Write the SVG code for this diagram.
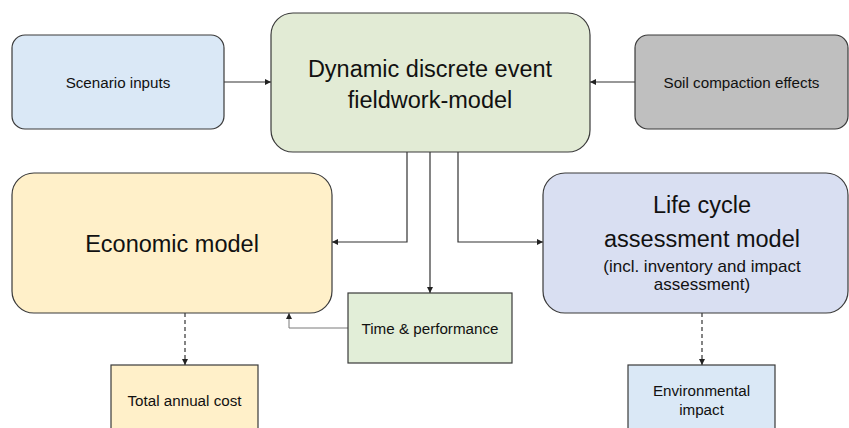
<svg xmlns="http://www.w3.org/2000/svg" width="849" height="428" viewBox="0 0 849 428">
<style>
.box{stroke:#3a3a3a;stroke-width:1.2}
.t{font-family:"Liberation Sans",Arial,sans-serif;fill:#111;text-anchor:middle}
.s{font-size:15.2px}
.b{font-size:23.5px}
.m{font-size:17px}
.ln{fill:none;stroke:#333;stroke-width:1.2}
.gl{fill:none;stroke:#7a7a7a;stroke-width:1}
.ds{fill:none;stroke:#333;stroke-width:1.2;stroke-dasharray:4 3}
</style>
<defs>
<marker id="ah" viewBox="0 0 10 10" refX="10" refY="5" markerWidth="6" markerHeight="6" markerUnits="userSpaceOnUse" orient="auto">
<path d="M0,0 L10,5 L0,10 z" fill="#222"/>
</marker>
</defs>
<rect width="849" height="428" fill="#fff"/>
<g id="connectors">
<path class="ln" d="M224,82 H271" marker-end="url(#ah)"/>
<path class="ln" d="M635,82 H590" marker-end="url(#ah)"/>
<path class="ln" d="M407,152 V242 H332" marker-end="url(#ah)"/>
<path class="ln" d="M430,152 V293" marker-end="url(#ah)"/>
<path class="ln" d="M458,152 V242 H543" marker-end="url(#ah)"/>
<path class="gl" d="M348,328 H289 V313" marker-end="url(#ah)"/>
<path class="ds" d="M185,313 V365" marker-end="url(#ah)"/>
<path class="ds" d="M702,313 V365" marker-end="url(#ah)"/>
</g>
<g id="scenario">
<rect class="box" x="12" y="35" width="212" height="94" rx="13" fill="#dae8f6"/>
<text class="t s" x="118" y="88">Scenario inputs</text>
</g>
<g id="fieldwork">
<rect class="box" x="271" y="13" width="319" height="139" rx="22" fill="#e2ebd5"/>
<text class="t b" x="430" y="77">Dynamic discrete event</text>
<text class="t b" x="430" y="108">fieldwork-model</text>
</g>
<g id="soil">
<rect class="box" x="635" y="35" width="213" height="94" rx="13" fill="#bfbfbf"/>
<text class="t s" x="741.5" y="88">Soil compaction effects</text>
</g>
<g id="economic">
<rect class="box" x="12" y="173" width="320" height="140" rx="22" fill="#fff0c9"/>
<text class="t b" x="172" y="252">Economic model</text>
</g>
<g id="lca">
<rect class="box" x="543" y="173" width="305" height="140" rx="22" fill="#d9dff2"/>
<text class="t b" x="702" y="213">Life cycle</text>
<text class="t b" x="702" y="247">assessment model</text>
<text class="t m" x="702" y="272">(incl. inventory and impact</text>
<text class="t m" x="702" y="290">assessment)</text>
</g>
<g id="time">
<rect class="box" x="348" y="293" width="164" height="70" fill="#e2eed8"/>
<text class="t s" x="430" y="334">Time &amp; performance</text>
</g>
<g id="cost">
<rect class="box" x="111" y="365" width="147" height="70" fill="#fff0c9"/>
<text class="t s" x="184.5" y="406">Total annual cost</text>
</g>
<g id="env">
<rect class="box" x="628" y="365" width="147" height="70" fill="#dae8f6"/>
<text class="t s" x="701.5" y="396">Environmental</text>
<text class="t s" x="701.5" y="415">impact</text>
</g>
</svg>
